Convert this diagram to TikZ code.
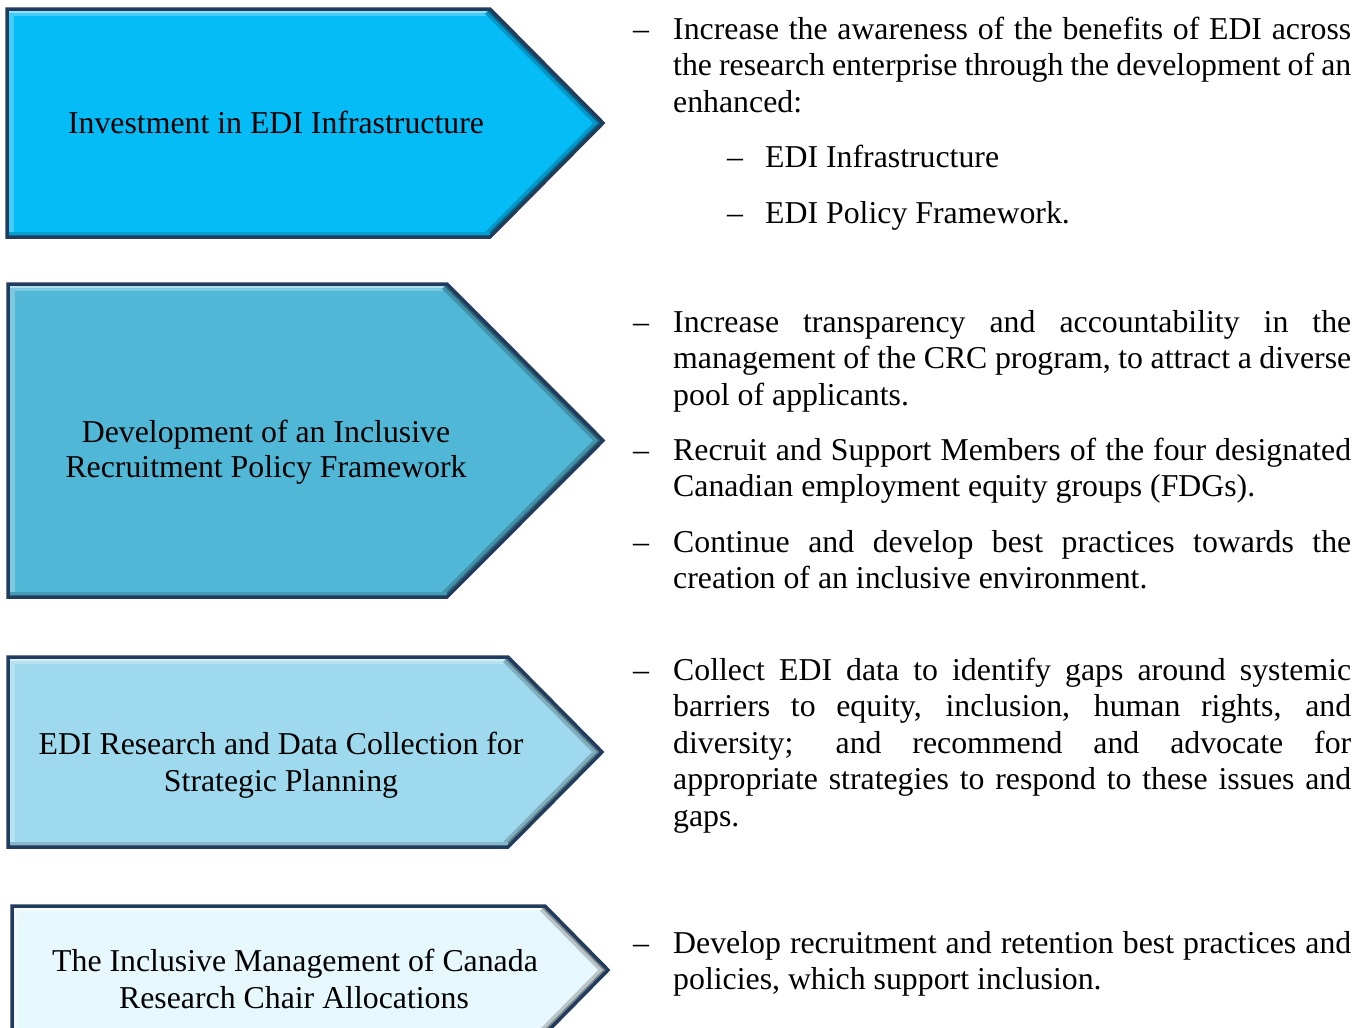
\documentclass[tikz,border=0pt]{standalone}
\usepackage{fontspec}
\setmainfont{Liberation Serif}
\setlength{\parindent}{0pt}
\hbadness=10000
\definecolor{bxA}{HTML}{05BCF7}
\definecolor{bxB}{HTML}{51B7D6}
\definecolor{bxC}{HTML}{9ED9ED}
\definecolor{bxD}{HTML}{E6F8FC}
\definecolor{navy}{HTML}{223C5E}
\tikzset{
  boxborder/.style={draw=navy, line width=3.5pt, line join=miter},
  boxlabel/.style={anchor=base, inner sep=0pt, font=\fontsize{31.8}{36.5}\selectfont},
  dashmark/.style={anchor=base west, inner sep=0pt, font=\fontsize{31.8}{36.5}\selectfont},
  para/.style={anchor=base west, inner sep=0pt, text width=678pt, align=justify, font=\fontsize{31.8}{36.5}\selectfont},
  subpara/.style={anchor=base west, inner sep=0pt, font=\fontsize{31.8}{36.5}\selectfont},
}
% #1 name, #2 left x, #3 top y, #4 corner x, #5 tip x, #6 bottom y, #7 fill colour
\newcommand{\ediarrow}[7]{%
  \coordinate (#1-tl) at (#2,#3);
  \coordinate (#1-tr) at (#4,#3);
  \coordinate (#1-tip) at (#5,{(#3+#6)/2});
  \coordinate (#1-br) at (#4,#6);
  \coordinate (#1-bl) at (#2,#6);
  \fill[#7] (#1-tl) -- (#1-tr) -- (#1-tip) -- (#1-br) -- (#1-bl) -- cycle;
  \begin{scope}
    \clip (#1-tl) -- (#1-tr) -- (#1-tip) -- (#1-br) -- (#1-bl) -- cycle;
    \draw[line width=14pt, #7!75!white] (#1-bl) -- (#1-tl) -- (#1-tr);
    \draw[line width=7pt, #7!45!white] (#1-tl) -- (#1-tr);
    \draw[line width=14pt, #7!80!black] (#1-tr) -- (#1-tip) -- (#1-br);
    \draw[line width=7pt, #7!55!black] (#1-tr) -- (#1-tip) -- (#1-br);
    \draw[line width=10pt, #7!85!black] (#1-br) -- (#1-bl);
  \end{scope}
  \draw[boxborder] (#1-tl) -- (#1-tr) -- (#1-tip) -- (#1-br) -- (#1-bl) -- cycle;
}
\begin{document}
\begin{tikzpicture}[x=1pt, y=-1pt]
\useasboundingbox (0,0) rectangle (1369,1028);

% arrows
\ediarrow{a1}{7}{9}{490}{603}{237}{bxA}
\ediarrow{a2}{8}{284}{447}{603}{597}{bxB}
\ediarrow{a3}{8}{657}{508}{602}{847}{bxC}
\ediarrow{a4}{12}{906}{545}{608}{1034}{bxD}

% arrow labels
\node[boxlabel] (l1) at (276,133) {Investment in EDI Infrastructure};
\node[boxlabel] (l2a) at (266,442) {Development of an Inclusive};
\node[boxlabel] (l2b) at (266,477) {Recruitment Policy Framework};
\node[boxlabel] (l3a) at (281,754) {EDI Research and Data Collection for};
\node[boxlabel] (l3b) at (281,791) {Strategic Planning};
\node[boxlabel] (l4a) at (295,971) {The Inclusive Management of Canada};
\node[boxlabel] (l4b) at (294,1008) {Research Chair Allocations};

% block 1
\node[dashmark] (d1) at (633,39) {–};
\node[para] (p1) at (673,39) {Increase the awareness of the benefits of EDI across\linebreak the research enterprise through the development of an\linebreak enhanced:};
\node[dashmark] (d1a) at (727,167) {–};
\node[subpara] (s1a) at (765,167) {EDI Infrastructure};
\node[dashmark] (d1b) at (727,223) {–};
\node[subpara] (s1b) at (765,223) {EDI Policy Framework.};

% block 2
\node[dashmark] (d2) at (633,332) {–};
\node[para] (p2) at (673,332) {Increase transparency and accountability in the\linebreak management of the CRC program, to attract a diverse\linebreak pool of applicants.};
\node[dashmark] (d3) at (633,460) {–};
\node[para] (p3) at (673,460) {Recruit and Support Members of the four designated\linebreak Canadian employment equity groups (FDGs).};
\node[dashmark] (d4) at (633,552) {–};
\node[para] (p4) at (673,552) {Continue and develop best practices towards the\linebreak creation of an inclusive environment.};

% block 3
\node[dashmark] (d5) at (633,680) {–};
\node[para] (p5) at (673,680) {Collect EDI data to identify gaps around systemic\linebreak barriers to equity, inclusion, human rights, and\linebreak diversity; and recommend and advocate for\linebreak appropriate strategies to respond to these issues and\linebreak gaps.};

% block 4
\node[dashmark] (d6) at (633,953) {–};
\node[para] (p6) at (673,953) {Develop recruitment and retention best practices and\linebreak policies, which support inclusion.};
\end{tikzpicture}
\end{document}
